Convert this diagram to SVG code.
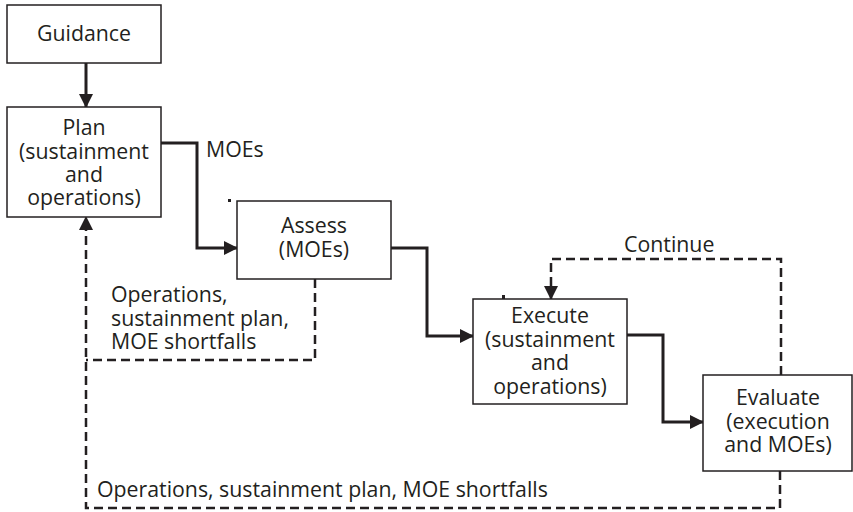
<svg xmlns="http://www.w3.org/2000/svg" width="853" height="512" viewBox="0 0 853 512">
<style>
.box{fill:#fff;stroke:#231f20;stroke-width:1.5}
.t{font-family:"Open Sans","Noto Sans",sans-serif;font-size:21.3px;fill:#231f20}
.c{text-anchor:middle}
.solid{fill:none;stroke:#231f20;stroke-width:3}
.dash{fill:none;stroke:#231f20;stroke-width:2.5;stroke-dasharray:9 5}
</style>
<defs>
<marker id="ah" markerWidth="14" markerHeight="14" viewBox="0 0 14 14" refX="13" refY="7" orient="auto" markerUnits="userSpaceOnUse">
<path d="M0,0 L14,7 L0,14 Z" fill="#231f20"/>
</marker>
</defs>
<g id="connectors">
<path class="solid" d="M86,63 V107" marker-end="url(#ah)"/>
<path class="solid" d="M161,143 H197 V248 H237" marker-end="url(#ah)"/>
<path class="solid" d="M391,248 H427 V336 H473" marker-end="url(#ah)"/>
<path class="solid" d="M627,335 H663 V422 H703" marker-end="url(#ah)"/>
<path class="dash" d="M781,375 V259 H551 V299" marker-end="url(#ah)"/>
<path class="dash" d="M315,279 V360 H86"/>
<path class="dash" d="M780,471 V508 H86 V217" marker-end="url(#ah)"/>
<rect x="228" y="199" width="3" height="3" fill="#231f20"/>
<rect x="502" y="295" width="3" height="5" fill="#231f20"/>
<text class="t" x="206" y="157">MOEs</text>
<text class="t" x="624" y="252">Continue</text>
<text class="t" x="111"><tspan x="111" y="302">Operations,</tspan><tspan x="111" y="325.5">sustainment plan,</tspan><tspan x="111" y="349">MOE shortfalls</tspan></text>
<text class="t" x="97" y="497">Operations, sustainment plan, MOE shortfalls</text>
</g>
<g id="guidance">
<rect class="box" x="7" y="5" width="154" height="58"/>
<text class="t c" x="84" y="40.5">Guidance</text>
</g>
<g id="plan">
<rect class="box" x="7" y="107" width="154" height="110"/>
<text class="t c"><tspan x="84" y="135">Plan</tspan><tspan x="84" y="158.5">(sustainment</tspan><tspan x="84" y="182">and</tspan><tspan x="84" y="205">operations)</tspan></text>
</g>
<g id="assess">
<rect class="box" x="237" y="201" width="154" height="78"/>
<text class="t c"><tspan x="314" y="233">Assess</tspan><tspan x="314" y="256.5">(MOEs)</tspan></text>
</g>
<g id="execute">
<rect class="box" x="473" y="299" width="154" height="105"/>
<text class="t c"><tspan x="550" y="323">Execute</tspan><tspan x="550" y="346.5">(sustainment</tspan><tspan x="550" y="370">and</tspan><tspan x="550" y="393.5">operations)</tspan></text>
</g>
<g id="evaluate">
<rect class="box" x="703" y="375" width="149" height="96"/>
<text class="t c"><tspan x="778" y="405">Evaluate</tspan><tspan x="778" y="428.5">(execution</tspan><tspan x="778" y="452">and MOEs)</tspan></text>
</g>
</svg>
